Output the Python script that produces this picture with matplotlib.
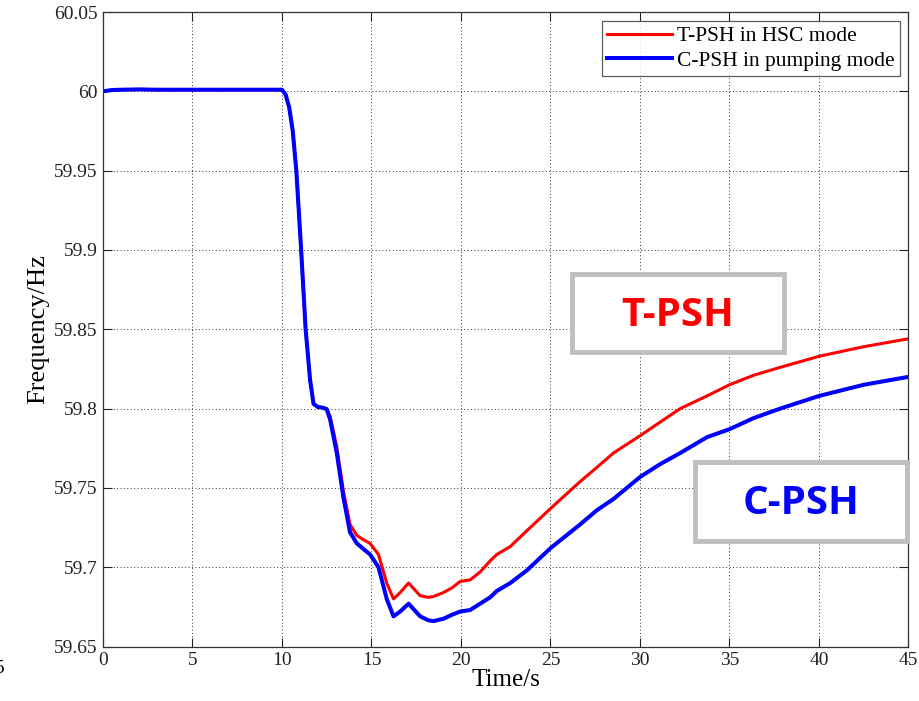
import numpy as np
import matplotlib
matplotlib.use("Agg")
import matplotlib.pyplot as plt
from matplotlib.patches import Rectangle

# time axis [s]
t = [0, 0.5, 1, 2, 3, 5, 8, 10, 10.2, 10.4, 10.6, 10.8, 11.07, 11.32, 11.57,
     11.76, 12.0, 12.3, 12.5, 12.69, 13.06, 13.43, 13.8, 14.18, 14.6, 14.92,
     15.39, 15.85, 16.23, 16.6, 17.07, 17.72, 18.18, 18.46, 19.02, 19.5, 19.95,
     20.51, 21.07, 21.63, 22.0, 22.75, 23.68, 25.0, 26.66, 27.6, 28.52, 30.02,
     31.13, 32.25, 33.75, 35.0, 36.35, 37.84, 40.02, 42.5, 45]

# T-PSH in HSC mode [Hz]
f_tpsh = [60.000, 60.0008, 60.001, 60.0012, 60.001, 60.001, 60.001, 60.001,
          59.998, 59.990, 59.975, 59.950, 59.900, 59.850, 59.818, 59.803,
          59.801, 59.8005, 59.800, 59.795, 59.776, 59.748, 59.727, 59.720,
          59.717, 59.715, 59.708, 59.690, 59.680, 59.684, 59.690, 59.682,
          59.681, 59.6815, 59.684, 59.687, 59.691, 59.692, 59.697, 59.704,
          59.708, 59.713, 59.723, 59.737, 59.754, 59.763, 59.772, 59.783,
          59.7915, 59.800, 59.808, 59.815, 59.821, 59.826, 59.833, 59.839,
          59.844]

# C-PSH in pumping mode [Hz]
f_cpsh = [60.000, 60.0008, 60.001, 60.0012, 60.001, 60.001, 60.001, 60.001,
          59.998, 59.990, 59.975, 59.950, 59.900, 59.850, 59.818, 59.803,
          59.801, 59.8005, 59.7995, 59.793, 59.772, 59.744, 59.722, 59.715,
          59.711, 59.708, 59.700, 59.680, 59.669, 59.672, 59.677, 59.669,
          59.6665, 59.666, 59.6675, 59.670, 59.672, 59.673, 59.677, 59.681,
          59.685, 59.690, 59.698, 59.712, 59.727, 59.736, 59.743, 59.757,
          59.765, 59.772, 59.782, 59.787, 59.794, 59.800, 59.808, 59.815,
          59.820]

x_ticks = [0, 5, 10, 15, 20, 25, 30, 35, 40, 45]
y_ticks = [59.65, 59.7, 59.75, 59.8, 59.85, 59.9, 59.95, 60.0, 60.05]
y_labels = ['59.65', '59.7', '59.75', '59.8', '59.85', '59.9', '59.95', '60', '60.05']

W, H = 920, 701
serif = ['Liberation Serif', 'DejaVu Serif']

fig = plt.figure(figsize=(W/100, H/100), dpi=100)
ax = fig.add_axes([103/W, 1 - 646.5/H, 805.5/W, 634.5/H])

ax.plot(t, f_tpsh, color='#ff0000', lw=2.2, label='T-PSH in HSC mode')
ax.plot(t, f_cpsh, color='#0000ff', lw=2.9, label='C-PSH in pumping mode')

ax.set_xlim(0, 45)
ax.set_ylim(59.65, 60.05)
ax.set_xticks(x_ticks)
ax.set_xticklabels([str(v) for v in x_ticks], fontfamily=serif, fontsize=14)
ax.set_yticks(y_ticks)
ax.set_yticklabels(y_labels, fontfamily=serif, fontsize=14)
ax.tick_params(direction='in', top=True, right=True, length=6.5, width=0.8,
               pad=4, colors='#222222')
ax.grid(True, linestyle=(0, (1, 2.5)), color='#333333', lw=0.7)
for s in ax.spines.values():
    s.set_color('#333333')
    s.set_linewidth(0.9)

ax.set_xlabel('Time/s', fontfamily=serif, fontsize=18, labelpad=0)
ax.set_ylabel('Frequency/Hz', fontfamily=serif, fontsize=19, labelpad=3)

leg = ax.legend(loc='upper right', bbox_to_anchor=(0.990, 0.986),
                prop={'family': serif, 'size': 15.5}, fancybox=False,
                handlelength=3.0, handletextpad=0.25, borderpad=0.25,
                labelspacing=0.2, borderaxespad=0)
leg.get_frame().set_edgecolor('#333333')
leg.get_frame().set_linewidth(0.9)

# annotation boxes (pixel positions of the picture)
def label_box(x0, y0, x1, y1, text, color):
    fig.patches.append(Rectangle((x0/W, 1 - y1/H), (x1 - x0)/W, (y1 - y0)/H,
                                 transform=fig.transFigure, facecolor='white',
                                 edgecolor='#bfbfbf', lw=3.5, zorder=5))
    fig.text((x0 + x1)/2/W, 1 - ((y0 + y1)/2 + 2)/H, text, color=color,
             fontfamily=['Open Sans', 'DejaVu Sans'], fontweight='bold',
             fontsize=29, ha='center', va='center', zorder=6)

label_box(572, 274, 784, 352, 'T-PSH', '#ff0000')
label_box(695, 462, 907, 541, 'C-PSH', '#0000ff')

# cut-off tick digit at the left edge (as in the source picture)
fig.text(4/W, 1 - 673/H, '5', fontfamily=serif, fontsize=14, ha='right',
         va='baseline')

fig.savefig('out.png', dpi=100)
